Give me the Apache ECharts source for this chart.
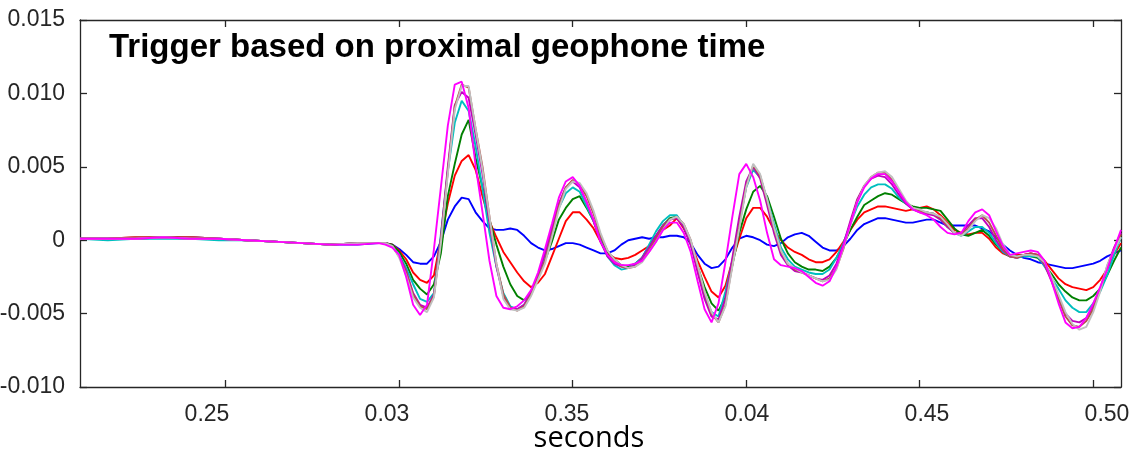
<!DOCTYPE html>
<html>
<head>
<meta charset="utf-8">
<script src="https://cdn.jsdelivr.net/npm/echarts@6/dist/echarts.min.js"></script>
<style>
html,body{margin:0;padding:0;background:#fff;}
#c{width:1135px;height:457px;}
</style>
</head>
<body>
<div id="c"></div>
<script>
// ---- data (seconds, amplitude) ----
const times = [0.0208,0.0216,0.0224,0.0232,0.0240,0.0248,0.0256,0.0264,0.0272,0.0280,0.0288,
0.0294,0.0296,0.0298,0.0300,0.0302,0.0304,0.0306,0.0308,0.0310,0.0312,
0.0314,0.0316,0.0318,0.0320,0.0322,0.0324,0.0326,0.0328,0.0330,0.0332,
0.0334,0.0336,0.0338,0.0340,0.0342,0.0344,0.0346,0.0348,0.0350,0.0352,
0.0354,0.0356,0.0358,0.0360,0.0362,0.0364,0.0366,0.0368,0.0370,0.0372,
0.0374,0.0376,0.0378,0.0380,0.0382,0.0384,0.0386,0.0388,0.0390,0.0392,
0.0394,0.0396,0.0398,0.0400,0.0402,0.0404,0.0406,0.0408,0.0410,0.0412,
0.0414,0.0416,0.0418,0.0420,0.0422,0.0424,0.0426,0.0428,0.0430,0.0432,
0.0434,0.0436,0.0438,0.0440,0.0442,0.0444,0.0446,0.0448,0.0450,0.0452,
0.0454,0.0456,0.0458,0.0460,0.0462,0.0464,0.0466,0.0468,0.0470,0.0472,
0.0474,0.0476,0.0478,0.0480,0.0482,0.0484,0.0486,0.0488,0.0490,0.0492,
0.0494,0.0496,0.0498,0.0500,0.0502,0.0504,0.0506,0.0508];

const blue = [1e-4,1e-4,1e-4,2e-4,2e-4,1e-4,0,-1e-4,-2e-4,-3e-4,-3e-4,
-2e-4,-2e-4,-3e-4,-6e-4,-10e-4,-15e-4,-16e-4,-16e-4,-11e-4,-1e-4,
14e-4,23e-4,29e-4,28e-4,19e-4,13e-4,8e-4,7e-4,7e-4,8e-4,
7e-4,3e-4,-2e-4,-5e-4,-7e-4,-6e-4,-4e-4,-2e-4,-2e-4,-3e-4,
-5e-4,-7e-4,-9e-4,-9e-4,-7e-4,-3e-4,0,1e-4,2e-4,1e-4,
2e-4,2e-4,3e-4,3e-4,2e-4,-2e-4,-10e-4,-16e-4,-19e-4,-18e-4,
-13e-4,-5e-4,1e-4,3e-4,2e-4,0,-3e-4,-4e-4,-2e-4,2e-4,
4e-4,5e-4,3e-4,-1e-4,-5e-4,-7e-4,-7e-4,-4e-4,1e-4,7e-4,
11e-4,13e-4,15e-4,15e-4,14e-4,13e-4,12e-4,12e-4,13e-4,14e-4,
14e-4,12e-4,10e-4,10e-4,10e-4,10e-4,10e-4,8e-4,6e-4,2e-4,
-3e-4,-7e-4,-10e-4,-12e-4,-13e-4,-15e-4,-16e-4,-17e-4,-18e-4,-19e-4,
-19e-4,-18e-4,-17e-4,-16e-4,-14e-4,-11e-4,-9e-4,-7e-4];

const red = [1e-4,1e-4,2e-4,2e-4,2e-4,1e-4,0,-1e-4,-2e-4,-3e-4,-2e-4,
-2e-4,-2e-4,-3e-4,-7e-4,-13e-4,-22e-4,-27e-4,-29e-4,-24e-4,1e-4,
25e-4,44e-4,54e-4,58e-4,48e-4,30e-4,13e-4,2e-4,-8e-4,-15e-4,
-22e-4,-28e-4,-32e-4,-29e-4,-23e-4,-11e-4,1e-4,13e-4,19e-4,19e-4,
14e-4,8e-4,-1e-4,-9e-4,-12e-4,-13e-4,-12e-4,-10e-4,-7e-4,-4e-4,
2e-4,7e-4,10e-4,15e-4,8e-4,-2e-4,-14e-4,-25e-4,-35e-4,-39e-4,
-31e-4,-14e-4,1e-4,15e-4,22e-4,22e-4,16e-4,7e-4,0,-5e-4,
-8e-4,-10e-4,-13e-4,-15e-4,-15e-4,-13e-4,-8e-4,-1e-4,7e-4,14e-4,
19e-4,21e-4,23e-4,23e-4,22e-4,21e-4,20e-4,21e-4,22e-4,23e-4,
21e-4,17e-4,12e-4,7e-4,5e-4,4e-4,5e-4,5e-4,1e-4,-5e-4,
-9e-4,-11e-4,-10e-4,-10e-4,-9e-4,-10e-4,-14e-4,-20e-4,-26e-4,-30e-4,
-32e-4,-33e-4,-34e-4,-32e-4,-27e-4,-20e-4,-10e-4,-2e-4];

const green = [1e-4,1e-4,1e-4,2e-4,1e-4,1e-4,0,-1e-4,-2e-4,-3e-4,-2e-4,
-2e-4,-2e-4,-3e-4,-8e-4,-16e-4,-27e-4,-33e-4,-37e-4,-30e-4,-9e-4,
30e-4,52e-4,72e-4,82e-4,56e-4,36e-4,14e-4,-3e-4,-18e-4,-30e-4,
-38e-4,-41e-4,-36e-4,-26e-4,-14e-4,-1e-4,14e-4,22e-4,28e-4,30e-4,
22e-4,13e-4,1e-4,-8e-4,-13e-4,-17e-4,-18e-4,-16e-4,-12e-4,-4e-4,
3e-4,10e-4,15e-4,16e-4,9e-4,-3e-4,-18e-4,-32e-4,-43e-4,-48e-4,
-39e-4,-17e-4,5e-4,21e-4,33e-4,37e-4,30e-4,16e-4,1e-4,-9e-4,
-15e-4,-18e-4,-20e-4,-20e-4,-21e-4,-18e-4,-12e-4,-3e-4,7e-4,16e-4,
24e-4,27e-4,30e-4,32e-4,31e-4,28e-4,25e-4,23e-4,22e-4,22e-4,
21e-4,20e-4,14e-4,8e-4,4e-4,3e-4,5e-4,7e-4,3e-4,-3e-4,
-8e-4,-11e-4,-11e-4,-10e-4,-11e-4,-12e-4,-17e-4,-23e-4,-30e-4,-35e-4,
-39e-4,-41e-4,-41e-4,-38e-4,-33e-4,-24e-4,-14e-4,-5e-4];

const cyan = [1e-4,0,1e-4,1e-4,1e-4,0,0,-1e-4,-2e-4,-3e-4,-2e-4,
-2e-4,-2e-4,-4e-4,-10e-4,-19e-4,-30e-4,-40e-4,-42e-4,-36e-4,4e-4,
47e-4,80e-4,95e-4,88e-4,64e-4,35e-4,5e-4,-18e-4,-36e-4,-45e-4,
-47e-4,-44e-4,-36e-4,-24e-4,-10e-4,6e-4,22e-4,32e-4,36e-4,33e-4,
23e-4,13e-4,0,-11e-4,-17e-4,-20e-4,-19e-4,-16e-4,-12e-4,-3e-4,
6e-4,13e-4,17e-4,17e-4,10e-4,-2e-4,-20e-4,-38e-4,-49e-4,-52e-4,
-35e-4,-14e-4,12e-4,36e-4,48e-4,43e-4,28e-4,11e-4,-5e-4,-13e-4,
-18e-4,-20e-4,-22e-4,-23e-4,-23e-4,-20e-4,-12e-4,-2e-4,11e-4,23e-4,
31e-4,36e-4,38e-4,38e-4,35e-4,29e-4,25e-4,21e-4,20e-4,19e-4,
18e-4,14e-4,9e-4,5e-4,3e-4,6e-4,9e-4,9e-4,5e-4,-2e-4,
-8e-4,-11e-4,-12e-4,-11e-4,-11e-4,-11e-4,-18e-4,-26e-4,-33e-4,-41e-4,
-46e-4,-49e-4,-49e-4,-43e-4,-35e-4,-24e-4,-10e-4,2e-4];

const purple = [1e-4,1e-4,1e-4,2e-4,1e-4,1e-4,0,-1e-4,-2e-4,-3e-4,-2e-4,
-2e-4,-2e-4,-4e-4,-11e-4,-21e-4,-36e-4,-44e-4,-46e-4,-37e-4,2e-4,
50e-4,92e-4,101e-4,97e-4,72e-4,45e-4,12e-4,-18e-4,-38e-4,-46e-4,
-47e-4,-44e-4,-36e-4,-24e-4,-9e-4,8e-4,25e-4,36e-4,40e-4,36e-4,
26e-4,13e-4,-1e-4,-11e-4,-16e-4,-18e-4,-19e-4,-17e-4,-12e-4,-5e-4,
3e-4,10e-4,14e-4,15e-4,9e-4,-3e-4,-22e-4,-40e-4,-52e-4,-54e-4,
-40e-4,-12e-4,16e-4,40e-4,50e-4,42e-4,24e-4,5e-4,-10e-4,-17e-4,
-21e-4,-22e-4,-24e-4,-26e-4,-27e-4,-24e-4,-16e-4,-3e-4,13e-4,28e-4,
37e-4,42e-4,44e-4,43e-4,38e-4,31e-4,25e-4,21e-4,19e-4,18e-4,
17e-4,14e-4,9e-4,5e-4,5e-4,10e-4,15e-4,15e-4,9e-4,0,
-7e-4,-11e-4,-12e-4,-10e-4,-9e-4,-10e-4,-17e-4,-28e-4,-40e-4,-50e-4,
-55e-4,-56e-4,-53e-4,-45e-4,-33e-4,-18e-4,-5e-4,5e-4];

const brown = [1e-4,1e-4,2e-4,2e-4,2e-4,1e-4,0,-1e-4,-2e-4,-3e-4,-2e-4,
-2e-4,-2e-4,-4e-4,-11e-4,-22e-4,-37e-4,-45e-4,-47e-4,-38e-4,0,
47e-4,91e-4,106e-4,104e-4,76e-4,50e-4,16e-4,-16e-4,-37e-4,-46e-4,
-48e-4,-45e-4,-37e-4,-26e-4,-14e-4,4e-4,23e-4,36e-4,41e-4,38e-4,
30e-4,18e-4,3e-4,-7e-4,-14e-4,-18e-4,-19e-4,-18e-4,-14e-4,-7e-4,
1e-4,9e-4,14e-4,16e-4,11e-4,0,-18e-4,-36e-4,-50e-4,-56e-4,
-44e-4,-17e-4,10e-4,37e-4,51e-4,44e-4,27e-4,8e-4,-8e-4,-16e-4,
-20e-4,-22e-4,-24e-4,-26e-4,-28e-4,-26e-4,-19e-4,-6e-4,11e-4,27e-4,
37e-4,43e-4,46e-4,46e-4,41e-4,34e-4,26e-4,22e-4,20e-4,19e-4,
18e-4,15e-4,10e-4,5e-4,4e-4,8e-4,14e-4,17e-4,12e-4,3e-4,
-6e-4,-11e-4,-12e-4,-10e-4,-9e-4,-10e-4,-16e-4,-27e-4,-40e-4,-52e-4,
-58e-4,-59e-4,-55e-4,-47e-4,-34e-4,-19e-4,-6e-4,4e-4];

const gray = [1e-4,1e-4,1e-4,2e-4,1e-4,1e-4,0,-1e-4,-2e-4,-3e-4,-2e-4,
-2e-4,-2e-4,-4e-4,-12e-4,-24e-4,-39e-4,-46e-4,-49e-4,-39e-4,-2e-4,
45e-4,89e-4,105e-4,105e-4,76e-4,48e-4,16e-4,-16e-4,-40e-4,-47e-4,
-48e-4,-46e-4,-38e-4,-27e-4,-16e-4,2e-4,21e-4,35e-4,40e-4,39e-4,
32e-4,20e-4,5e-4,-7e-4,-13e-4,-17e-4,-19e-4,-18e-4,-15e-4,-8e-4,
-1e-4,7e-4,14e-4,16e-4,11e-4,0,-17e-4,-35e-4,-49e-4,-56e-4,
-45e-4,-18e-4,8e-4,36e-4,52e-4,45e-4,28e-4,9e-4,-7e-4,-16e-4,
-19e-4,-22e-4,-24e-4,-26e-4,-28e-4,-27e-4,-20e-4,-5e-4,10e-4,26e-4,
37e-4,43e-4,46e-4,47e-4,43e-4,35e-4,27e-4,22e-4,21e-4,19e-4,
18e-4,16e-4,11e-4,5e-4,3e-4,7e-4,13e-4,17e-4,15e-4,8e-4,
-3e-4,-10e-4,-11e-4,-10e-4,-10e-4,-11e-4,-15e-4,-25e-4,-37e-4,-49e-4,
-57e-4,-61e-4,-59e-4,-49e-4,-35e-4,-17e-4,-7e-4,2e-4];

const magenta = [1e-4,1e-4,1e-4,2e-4,1e-4,1e-4,0,-1e-4,-2e-4,-3e-4,-3e-4,
-2e-4,-3e-4,-5e-4,-10e-4,-25e-4,-44e-4,-51e-4,-44e-4,-6e-4,36e-4,
78e-4,106e-4,108e-4,90e-4,51e-4,19e-4,-14e-4,-38e-4,-46e-4,-47e-4,
-45e-4,-41e-4,-34e-4,-22e-4,-6e-4,11e-4,29e-4,40e-4,43e-4,37e-4,
26e-4,14e-4,-1e-4,-10e-4,-15e-4,-17e-4,-17e-4,-16e-4,-14e-4,-8e-4,
-1e-4,7e-4,12e-4,12e-4,5e-4,-8e-4,-28e-4,-47e-4,-56e-4,-43e-4,
-15e-4,16e-4,45e-4,52e-4,43e-4,27e-4,5e-4,-13e-4,-17e-4,-18e-4,
-19e-4,-21e-4,-25e-4,-29e-4,-31e-4,-28e-4,-18e-4,-4e-4,11e-4,26e-4,
36e-4,42e-4,45e-4,45e-4,40e-4,33e-4,26e-4,21e-4,19e-4,17e-4,
14e-4,9e-4,5e-4,4e-4,5e-4,13e-4,19e-4,21e-4,17e-4,6e-4,
-4e-4,-10e-4,-9e-4,-8e-4,-7e-4,-8e-4,-14e-4,-28e-4,-43e-4,-56e-4,
-60e-4,-59e-4,-53e-4,-43e-4,-32e-4,-20e-4,-6e-4,7e-4];

const seriesNames = ['blue','red','green','cyan','purple','brown','gray','magenta'];
const seriesValues = [blue, red, green, cyan, purple, brown, gray, magenta];
const seriesColors = ['#0000ff','#ff0000','#008000','#00bfbf','#bf00bf','#b5524a','#c0c0c0','#ff00ff'];

const xTickValues = [0.025, 0.03, 0.035, 0.04, 0.045, 0.05];
const xTickLabels = ['0.25', '0.03', '0.35', '0.04', '0.45', '0.50'];
const yTickValues = [-0.01, -0.005, 0, 0.005, 0.01, 0.015];
const yTickLabels = ['-0.010', '-0.005', '0', '0.005', '0.010', '0.015'];
const titleText = 'Trigger based on proximal geophone time';
const xAxisName = 'seconds';

// ---- chart ----
function lookup(vals, labels, v) {
  for (let i = 0; i < vals.length; i++) {
    if (Math.abs(vals[i] - v) < 1e-9) return labels[i];
  }
  return '';
}
const AXIS_COLOR = '#262626';
const LABEL_FONT = 'Liberation Sans, Arial, Helvetica, sans-serif';
const XMIN = 0.0208, XMAX = 0.0508;

const chart = echarts.init(document.getElementById('c'), null, {renderer: 'canvas'});
const frameAxis = (pos) => ({
  type: 'value', min: XMIN, max: XMAX, position: pos,
  axisLine: {show: true, onZero: false, lineStyle: {color: AXIS_COLOR, width: 1.3}},
  axisTick: {show: true, inside: true, length: 7, customValues: xTickValues, lineStyle: {color: AXIS_COLOR, width: 1.3}},
  axisLabel: {show: false},
  splitLine: {show: false}
});

const option = {
  animation: false,
  backgroundColor: '#ffffff',
  textStyle: {fontFamily: LABEL_FONT},
  title: [
    {text: titleText, left: 109, top: 31, padding: 0,
     textStyle: {fontFamily: LABEL_FONT, fontWeight: 'bold', fontSize: 33, color: '#000'}},
    {text: xAxisName, left: 589, top: 424, padding: 0, textAlign: 'center',
     textStyle: {fontFamily: 'Open Sans, sans-serif', fontWeight: 'normal', fontSize: 29, color: '#000'}}
  ],
  grid: {left: 80, top: 20, width: 1041, height: 367, containLabel: false, outerBoundsMode: 'none'},
  xAxis: [
    frameAxis('bottom'),
    frameAxis('top'),
    {
      type: 'value', min: 0.021472, max: 0.050389, position: 'bottom',
      axisLine: {show: false}, axisTick: {show: false}, splitLine: {show: false},
      axisLabel: {show: true, customValues: xTickValues, margin: 16, fontSize: 23, color: AXIS_COLOR,
                  fontFamily: LABEL_FONT, formatter: v => lookup(xTickValues, xTickLabels, v)}
    }
  ],
  yAxis: [
    {
      type: 'value', min: -0.01, max: 0.015, interval: 0.005, position: 'left',
      axisLine: {show: true, onZero: false, lineStyle: {color: AXIS_COLOR, width: 1.3}},
      axisTick: {show: true, inside: true, length: 7, lineStyle: {color: AXIS_COLOR, width: 1.3}},
      axisLabel: {show: true, margin: 15, fontSize: 23, color: AXIS_COLOR, fontFamily: LABEL_FONT,
                  formatter: v => lookup(yTickValues, yTickLabels, v)},
      splitLine: {show: false}
    },
    {
      type: 'value', min: -0.01, max: 0.015, interval: 0.005, position: 'right',
      axisLine: {show: true, onZero: false, lineStyle: {color: AXIS_COLOR, width: 1.3}},
      axisTick: {show: true, inside: true, length: 7, lineStyle: {color: AXIS_COLOR, width: 1.3}},
      axisLabel: {show: false},
      splitLine: {show: false}
    }
  ],
  series: seriesValues.map((vals, k) => ({
    name: seriesNames[k],
    type: 'line',
    xAxisIndex: 0,
    yAxisIndex: 0,
    data: times.map((t, i) => [t, vals[i]]),
    showSymbol: false,
    symbol: 'none',
    smooth: false,
    lineStyle: {color: seriesColors[k], width: 1.9},
    z: 2 + k
  }))
};
chart.setOption(option);
</script>
</body>
</html>
